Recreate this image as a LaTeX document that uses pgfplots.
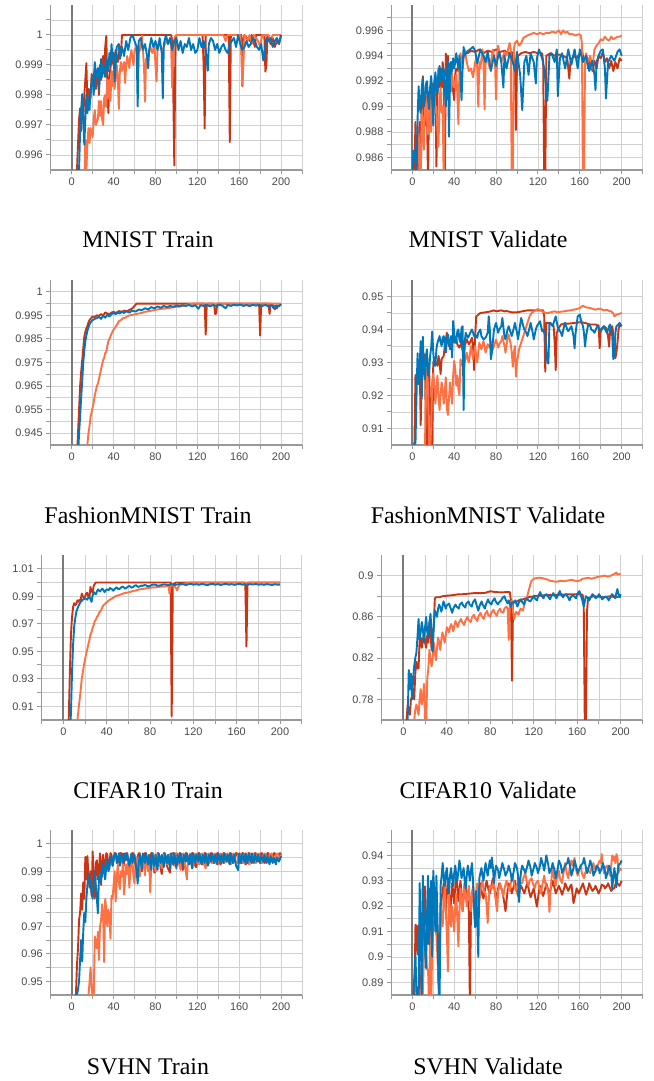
\documentclass[border=0pt]{standalone}
\usepackage{fontspec}
\setmainfont{Liberation Serif}
\newfontfamily\tickfont{Liberation Sans}
\usepackage{pgfplots}
\pgfplotsset{compat=1.18}
\definecolor{cR}{HTML}{CC3311}
\definecolor{cB}{HTML}{0077BB}
\definecolor{cO}{HTML}{FF7043}
\definecolor{tickgray}{HTML}{4A4A4A}
\definecolor{gridgray}{HTML}{D0D0D0}
\definecolor{axgray}{HTML}{999999}
\definecolor{zerogray}{HTML}{7A7A7A}
\pgfplotsset{
 tb/.style={
  scale only axis, height=165bp, anchor=south west,
  xmin=-20, xmax=220,
  xtick={0,40,80,120,160,200},
  xticklabels={0,40,80,120,160,200},
  minor xtick={-20,20,60,100,140,180,220},
  grid=both,
  major grid style={gridgray, line width=0.8bp},
  minor grid style={gridgray, line width=0.8bp},
  axis x line*=bottom, axis y line*=left,
  axis line style={axgray, line width=1.3bp, -},
  tick align=outside,
  major tick length=4.5bp, minor tick length=4.5bp,
  tick style={axgray, line width=1bp},
  ticklabel style={font=\fontsize{11}{13}\tickfont, text=tickgray},
  extra x ticks={0}, extra x tick labels={},
  extra x tick style={major grid style={zerogray, line width=1.8bp}},
  every axis plot/.append style={line width=1.9bp, line join=round, mark=none},
 },
 sR/.style={cR}, sB/.style={cB}, sO/.style={cO},
}
\tikzset{captxt/.style={font=\fontsize{24}{28}\selectfont, anchor=base}}
\begin{document}
\begin{tikzpicture}
\path[use as bounding box] (0,0) rectangle (654bp,1081bp);

% ---------- MNIST Train ----------
\begin{axis}[tb, at={(50.8bp,911bp)}, width=251.2bp,
  ymin=0.9955, ymax=1.001,
  ytick={0.996,0.997,0.998,0.999,1}, yticklabels={0.996,0.997,0.998,0.999,1},
  minor ytick={0.9965,0.9975,0.9985,0.9995,1.0005}]
\addplot[sR] coordinates {(4,0.9950) (5,0.9955) (7,0.9972) (8,0.99756) (9,0.9968) (10,0.9974) (11,0.9972) (12,0.9980) (13,0.9985) (14,0.99906) (15,0.9976) (16,0.9982) (18,0.9979) (19,0.9987) (20,0.9983) (22,0.9989) (23,0.9982) (25,0.9988) (26,0.9980) (27,0.9990) (28,0.9985) (30,0.9993) (31,0.9988) (32,0.9996) (33,0.99997) (34,0.9984) (35,0.9974) (36,0.9986) (38,0.9992) (40,0.9990) (42,0.9995) (44,0.9991) (46,0.9996) (47,0.9993) (48,1.0) (95,1.0) (96,0.9998) (97,0.9982) (98,0.99565) (99,0.9995) (100,1.0) (125,1.0) (126,0.9990) (127,0.99688) (128,1.0) (150,1.0) (151,0.99643) (152,1.0) (162,1.0) (163,0.9983) (164,0.99985) (165,1.0) (170,0.9998) (172,1.0) (175,0.9996) (176,1.0) (184,1.0) (185,0.99878) (186,0.9990) (187,1.0) (190,0.9997) (192,0.9999) (194,0.9996) (196,0.9998) (198,0.9997) (200,1.0)};
\addplot[sO] coordinates {(12,0.9950) (13,0.9965) (14,0.9955) (15,0.9964) (16,0.9969) (17,0.9964) (18,0.9969) (20,0.9966) (21,0.9972) (22,0.9975) (23,0.9970) (25,0.9972) (26,0.9978) (27,0.9973) (28,0.9978) (29,0.9972) (30,0.9970) (31,0.9979) (32,0.9980) (33,0.9976) (34,0.9985) (35,0.9979) (36,0.9985) (37,0.9978) (38,0.9988) (39,0.9983) (40,0.9988) (41,0.9982) (43,0.9990) (44,0.9986) (45,0.99753) (46,0.9988) (47,0.9991) (48,0.9988) (50,0.9991) (51,0.9984) (52,0.9990) (53,0.9993) (55,0.9989) (56,0.9993) (57,0.9995) (59,0.9990) (60,0.9995) (62,0.9996) (63,0.9988) (64,0.9994) (66,0.9996) (67,0.99998) (68,0.9995) (69,0.9990) (70,0.99778) (71,0.9992) (73,0.9993) (75,0.9996) (77,0.9994) (79,0.9997) (80,0.9990) (81,0.99845) (82,0.9996) (84,0.9997) (86,0.9995) (88,0.9996) (90,0.9998) (92,0.9997) (94,0.9999) (95,0.9996) (96,0.99823) (97,0.9993) (98,0.9999) (100,1.0) (145,1.0) (147,0.9998) (149,1.0) (161,1.0) (162,0.9995) (163,0.99834) (164,0.9990) (165,1.0) (168,0.9998) (170,1.0) (172,0.9997) (174,1.0) (178,0.9998) (180,0.9996) (182,1.0) (188,1.0) (190,0.9998) (192,1.0) (200,1.0)};
\addplot[sB] coordinates {(6,0.9950) (7,0.9955) (8,0.9968) (9,0.9975) (10,0.99803) (11,0.9972) (12,0.99634) (13,0.9972) (14,0.9980) (15,0.9974) (16,0.9979) (17,0.9975) (18,0.9982) (20,0.9986) (21,0.9980) (22,0.9991) (23,0.9986) (25,0.9989) (26,0.9982) (27,0.9987) (28,0.9992) (29,0.9986) (30,0.9990) (32,0.9986) (33,0.9992) (35,0.9988) (36,0.9994) (37,0.9990) (38,0.9997) (39,0.9992) (40,0.9994) (41,0.99845) (42,0.9990) (43,0.9996) (45,0.9997) (46,0.9992) (48,0.9996) (50,0.9993) (52,0.9998) (54,0.9995) (56,0.9999) (58,1.0) (60,0.9998) (62,0.9996) (63,0.99762) (64,0.9998) (66,0.9999) (68,0.9995) (70,0.9997) (72,0.9993) (73,0.99889) (74,0.9995) (76,0.9999) (78,0.9996) (80,0.9998) (82,0.9995) (84,0.9999) (86,0.9994) (87,0.99789) (88,0.9997) (90,1.0) (92,0.9997) (94,0.9999) (96,0.9995) (98,0.9998) (100,0.9999) (102,0.9995) (104,0.9998) (106,0.9994) (108,0.9997) (110,0.9996) (112,0.9999) (114,0.9995) (116,0.9997) (118,0.9994) (120,0.9995) (122,0.9999) (124,0.9996) (126,0.9998) (128,0.9995) (130,0.99881) (131,0.9997) (133,0.9999) (135,0.9998) (137,0.9995) (139,0.9997) (141,0.9994) (143,0.9996) (145,0.9997) (147,0.9995) (149,0.9994) (151,0.9997) (153,0.9998) (155,0.9999) (157,0.9996) (159,1.0) (161,0.9997) (163,0.9995) (165,0.9996) (167,0.9998) (169,0.9996) (171,0.9997) (173,0.9999) (175,0.9998) (177,0.9996) (179,0.9995) (181,0.9997) (183,0.99915) (184,0.9994) (186,0.9999) (188,0.9998) (190,0.9999) (192,0.9996) (194,0.9998) (196,0.9999) (198,0.9997) (200,1.0)};
\end{axis}
\node[captxt] at (148bp,833bp) {MNIST Train};

% ---------- MNIST Validate ----------
\begin{axis}[tb, at={(391.4bp,911bp)}, width=251.2bp,
  ymin=0.985, ymax=0.998,
  ytick={0.986,0.988,0.99,0.992,0.994,0.996}, yticklabels={0.986,0.988,0.99,0.992,0.994,0.996},
  minor ytick={0.987,0.989,0.991,0.993,0.995,0.997}]
\addplot[sR] coordinates {(1,0.984) (2,0.9850) (3,0.98880) (4,0.9855) (5,0.984) (6,0.9870) (7,0.98880) (8,0.984) (9,0.9905) (10,0.99239) (11,0.9895) (12,0.98850) (13,0.9910) (14,0.9895) (15,0.984) (16,0.9908) (17,0.9915) (18,0.9898) (19,0.9918) (20,0.9905) (21,0.9920) (22,0.9923) (23,0.98527) (24,0.9910) (25,0.9930) (26,0.9915) (27,0.9930) (28,0.9915) (29,0.9935) (30,0.9925) (31,0.984) (32,0.99417) (33,0.9930) (34,0.9940) (35,0.9925) (36,0.9932) (37,0.9935) (38,0.9920) (39,0.9912) (40,0.9905) (41,0.9925) (42,0.9930) (44,0.9928) (46,0.9936) (48,0.9938) (50,0.9944) (53,0.9942) (56,0.9944) (60,0.9943) (64,0.9945) (68,0.9942) (72,0.9944) (76,0.9943) (80,0.9945) (84,0.9943) (88,0.9944) (92,0.9942) (95,0.9943) (96,0.9935) (97,0.9942) (98,0.9930) (99,0.98815) (100,0.9935) (101,0.9940) (104,0.9942) (108,0.9943) (112,0.9942) (116,0.9943) (120,0.9942) (124,0.9942) (125,0.9935) (126,0.984) (127,0.984) (128,0.9940) (132,0.9942) (136,0.9940) (140,0.9941) (144,0.9940) (148,0.9938) (150,0.9922) (151,0.9935) (154,0.9940) (157,0.9938) (160,0.9942) (162,0.9945) (164,0.9935) (166,0.9940) (168,0.9930) (170,0.9938) (172,0.9928) (174,0.9936) (176,0.9930) (178,0.9940) (180,0.9938) (182,0.9943) (184,0.9935) (186,0.9938) (188,0.9930) (190,0.9936) (192,0.9928) (194,0.9935) (196,0.9930) (198,0.9938) (200,0.9936)};
\addplot[sO] coordinates {(4,0.984) (5,0.9850) (6,0.98788) (7,0.9860) (8,0.984) (9,0.9898) (10,0.9880) (11,0.9866) (12,0.9900) (13,0.9915) (14,0.9890) (15,0.9878) (16,0.9905) (17,0.9910) (18,0.9880) (19,0.9895) (20,0.9905) (21,0.9912) (22,0.9895) (23,0.9900) (24,0.9880) (25,0.98684) (26,0.9905) (27,0.9915) (28,0.9895) (29,0.9900) (30,0.984) (31,0.9910) (32,0.9923) (33,0.9910) (34,0.9905) (35,0.9918) (36,0.9920) (37,0.9912) (38,0.9925) (39,0.9918) (40,0.9915) (41,0.9920) (42,0.9925) (43,0.9910) (44,0.98862) (45,0.9930) (46,0.9942) (47,0.9935) (48,0.9930) (50,0.9945) (52,0.9935) (54,0.9928) (56,0.9930) (58,0.9923) (60,0.9935) (61,0.9938) (62,0.9930) (63,0.98998) (64,0.9935) (65,0.9930) (67,0.9945) (68,0.9935) (69,0.98977) (70,0.9935) (71,0.9940) (74,0.9930) (77,0.9945) (79,0.9935) (80,0.99055) (81,0.9940) (82,0.9948) (85,0.9935) (88,0.9943) (90,0.9940) (93,0.9950) (94,0.9945) (95,0.984) (96,0.984) (97,0.9945) (98,0.9950) (100,0.9952) (102,0.9948) (104,0.9950) (106,0.9954) (108,0.9955) (110,0.9956) (113,0.9957) (116,0.9958) (119,0.9957) (122,0.9958) (125,0.9957) (128,0.9958) (131,0.9958) (134,0.9959) (137,0.9958) (140,0.9960) (142,0.9957) (144,0.9960) (146,0.9958) (148,0.9959) (150,0.9957) (153,0.9957) (156,0.9956) (159,0.9957) (161,0.9956) (162,0.9950) (163,0.984) (164,0.984) (165,0.9935) (166,0.9942) (168,0.9935) (170,0.9940) (172,0.9930) (174,0.9945) (176,0.9948) (178,0.9950) (180,0.9953) (182,0.9952) (184,0.9955) (186,0.9953) (188,0.9952) (190,0.9955) (192,0.9953) (194,0.9954) (196,0.9955) (198,0.9955) (200,0.9956)};
\addplot[sB] coordinates {(0,0.984) (1,0.98652) (2,0.9858) (3,0.9866) (4,0.984) (5,0.9890) (6,0.99160) (7,0.9900) (8,0.9895) (9,0.9915) (10,0.9922) (11,0.9900) (12,0.9905) (13,0.9918) (14,0.9920) (15,0.9905) (16,0.9898) (17,0.9915) (18,0.9924) (19,0.9910) (20,0.9885) (21,0.9915) (22,0.9927) (23,0.9918) (24,0.9910) (25,0.9925) (26,0.9932) (27,0.9920) (28,0.9920) (29,0.9930) (30,0.9929) (31,0.9915) (32,0.9900) (33,0.9925) (34,0.9936) (35,0.98762) (36,0.9920) (37,0.9935) (38,0.9928) (39,0.9938) (40,0.9930) (41,0.9935) (42,0.9942) (43,0.9935) (44,0.9930) (45,0.9940) (46,0.9925) (47,0.99050) (48,0.9930) (49,0.9947) (50,0.9940) (52,0.9943) (55,0.9945) (58,0.9947) (60,0.9944) (62,0.9934) (65,0.9945) (68,0.9940) (70,0.9935) (72,0.9943) (75,0.9928) (78,0.9940) (80,0.9932) (83,0.9943) (85,0.9935) (87,0.99150) (88,0.9940) (90,0.9930) (93,0.9942) (96,0.9935) (98,0.9928) (100,0.9943) (103,0.9925) (105,0.98972) (107,0.9935) (109,0.9940) (111,0.9925) (113,0.9942) (116,0.9935) (118,0.99181) (119,0.9938) (121,0.9945) (124,0.9938) (126,0.9930) (129,0.99045) (131,0.9940) (133,0.9942) (136,0.9935) (138,0.9945) (139,0.99082) (141,0.9938) (143,0.9942) (146,0.9930) (149,0.9945) (152,0.9933) (155,0.9945) (158,0.9930) (160,0.9945) (163,0.9935) (166,0.9940) (169,0.9928) (172,0.9936) (174,0.9925) (175,0.99129) (176,0.9935) (178,0.9940) (180,0.9944) (182,0.9945) (184,0.9930) (185,0.99063) (187,0.9935) (190,0.9940) (193,0.9936) (196,0.9943) (198,0.9945) (200,0.9940)};
\end{axis}
\node[captxt] at (488bp,833bp) {MNIST Validate};

% ---------- FashionMNIST Train ----------
\begin{axis}[tb, at={(50.8bp,636bp)}, width=251.2bp,
  ymin=0.94, ymax=1.01,
  ytick={0.945,0.955,0.965,0.975,0.985,0.995,1.005}, yticklabels={0.945,0.955,0.965,0.975,0.985,0.995,1},
  minor ytick={0.95,0.96,0.97,0.98,0.99,1.0}]
\addplot[sR] coordinates {(5,0.935) (6,0.945) (7,0.955) (8,0.965) (9,0.971) (10,0.976) (11,0.981) (12,0.986) (13,0.988) (14,0.9895) (15,0.9905) (16,0.992) (17,0.9930) (18,0.9935) (19,0.9940) (20,0.9945) (22,0.9943) (24,0.9950) (26,0.9948) (28,0.9955) (30,0.9950) (32,0.9962) (34,0.9958) (36,0.9955) (38,0.9962) (40,0.9965) (42,0.9960) (45,0.9968) (48,0.9965) (50,0.9970) (53,0.9968) (56,0.9975) (58,0.9980) (60,0.9990) (62,1.0) (127,1.0) (128,0.9868) (129,1.0) (136,1.0) (137,0.9956) (138,0.9957) (139,1.0) (179,1.0) (180,0.9864) (181,1.0) (188,1.0) (189,0.9956) (190,1.0) (193,0.9990) (194,0.9975) (195,0.9985) (196,0.9980) (197,0.9992) (198,0.9988) (200,1.0)};
\addplot[sO] coordinates {(14,0.935) (15,0.9405) (16,0.945) (17,0.948) (18,0.952) (19,0.954) (20,0.956) (21,0.958) (22,0.961) (23,0.963) (24,0.965) (25,0.966) (26,0.968) (27,0.970) (28,0.972) (29,0.974) (30,0.976) (31,0.977) (32,0.979) (33,0.9795) (34,0.982) (35,0.984) (36,0.985) (37,0.986) (38,0.9872) (39,0.988) (40,0.9890) (41,0.9895) (42,0.9902) (43,0.9910) (44,0.9915) (45,0.9925) (47,0.9930) (49,0.9938) (51,0.9940) (53,0.9945) (55,0.9950) (58,0.9952) (61,0.9955) (64,0.9958) (67,0.9960) (70,0.9965) (73,0.9967) (76,0.9970) (79,0.9972) (82,0.9975) (85,0.9977) (88,0.9979) (91,0.9980) (94,0.9982) (97,0.9984) (100,0.9986) (103,0.9988) (106,0.9990) (109,0.9994) (112,0.9997) (115,0.9999) (118,1.0) (200,1.0)};
\addplot[sB] coordinates {(6,0.935) (7,0.945) (8,0.952) (9,0.960) (10,0.967) (11,0.975) (12,0.980) (13,0.984) (14,0.9865) (15,0.9885) (16,0.9900) (17,0.9912) (18,0.9920) (19,0.9925) (20,0.9930) (22,0.9935) (24,0.9938) (26,0.9945) (28,0.9935) (30,0.9948) (32,0.9940) (34,0.9952) (36,0.9945) (38,0.9955) (40,0.9960) (42,0.9955) (44,0.9962) (46,0.9958) (48,0.9965) (50,0.9960) (52,0.9968) (55,0.9962) (58,0.9970) (61,0.9966) (64,0.9975) (67,0.9972) (70,0.9980) (73,0.9975) (76,0.9985) (79,0.9980) (82,0.9988) (85,0.9982) (88,0.9990) (91,0.9985) (94,0.9990) (97,0.9986) (100,0.9992) (103,0.9988) (106,0.9993) (109,0.9990) (112,0.9994) (115,0.9988) (118,0.9993) (121,0.9978) (123,0.9993) (126,0.9990) (129,0.9995) (132,0.9988) (135,0.9994) (138,0.9990) (141,0.9995) (144,0.9991) (147,0.9980) (149,0.9994) (152,0.9990) (155,0.9995) (158,0.9992) (161,0.9996) (164,0.9990) (167,0.9994) (170,0.9989) (173,0.9995) (176,0.9991) (179,0.9995) (182,0.9990) (185,0.9994) (188,0.9988) (191,0.9993) (193,0.9980) (195,0.9992) (197,0.9988) (200,0.9995)};
\end{axis}
\node[captxt] at (148bp,557bp) {FashionMNIST Train};

% ---------- FashionMNIST Validate ----------
\begin{axis}[tb, at={(391.4bp,636bp)}, width=251.2bp,
  ymin=0.905, ymax=0.955,
  ytick={0.91,0.92,0.93,0.94,0.95}, yticklabels={0.91,0.92,0.93,0.94,0.95},
  minor ytick={0.915,0.925,0.935,0.945}]
\addplot[sR] coordinates {(1,0.904) (2,0.9055) (3,0.9262) (4,0.9250) (5,0.9235) (6,0.9290) (7,0.9300) (8,0.9110) (9,0.9280) (10,0.9310) (11,0.9300) (12,0.9325) (13,0.9065) (14,0.904) (15,0.9200) (16,0.9290) (17,0.9150) (18,0.904) (19,0.904) (20,0.9302) (21,0.9295) (23,0.9300) (24,0.9290) (25,0.9320) (26,0.9300) (27,0.9265) (28,0.9310) (30,0.9320) (31,0.9350) (33,0.9390) (34,0.9360) (35,0.9350) (36,0.9365) (38,0.9375) (40,0.9360) (42,0.9370) (43,0.9355) (45,0.9345) (47,0.9360) (48,0.9335) (50,0.9350) (52,0.9370) (54,0.9355) (55,0.9360) (57,0.9375) (58,0.9350) (59,0.9277) (60,0.9380) (61,0.9439) (63,0.9445) (65,0.9450) (70,0.9452) (75,0.9455) (78,0.9458) (80,0.9455) (85,0.9458) (88,0.9455) (90,0.9456) (95,0.9452) (100,0.9452) (105,0.9455) (110,0.9458) (115,0.9458) (120,0.9458) (125,0.9458) (126,0.9440) (127,0.9272) (128,0.9420) (132,0.9420) (135,0.9410) (136,0.9360) (137,0.9277) (138,0.9390) (140,0.9405) (142,0.9415) (145,0.9418) (150,0.9418) (155,0.9420) (160,0.9422) (165,0.9420) (170,0.9415) (175,0.9415) (178,0.9412) (179,0.9343) (180,0.9400) (183,0.9410) (185,0.9405) (187,0.9380) (188,0.9348) (189,0.9400) (191,0.9410) (193,0.9360) (194,0.9313) (195,0.9330) (196,0.9360) (197,0.9400) (198,0.9412) (200,0.9410)};
\addplot[sO] coordinates {(12,0.904) (13,0.9200) (14,0.9280) (15,0.9230) (16,0.904) (17,0.904) (18,0.9100) (19,0.9245) (20,0.9267) (21,0.9230) (22,0.9175) (23,0.9220) (24,0.9260) (25,0.9200) (26,0.9156) (27,0.9200) (28,0.9240) (29,0.9220) (30,0.9175) (31,0.9210) (32,0.9255) (33,0.9160) (34,0.9141) (35,0.9190) (36,0.9240) (37,0.9210) (38,0.9175) (39,0.9260) (40,0.9305) (41,0.9280) (42,0.9230) (43,0.9260) (44,0.9220) (45,0.9201) (46,0.9310) (47,0.9300) (48,0.9290) (49,0.9310) (50,0.9300) (52,0.9330) (53,0.9310) (54,0.9300) (56,0.9350) (57,0.9330) (58,0.9310) (60,0.9350) (61,0.9320) (62,0.9300) (64,0.9360) (66,0.9340) (68,0.9365) (70,0.9330) (72,0.9355) (74,0.9345) (75,0.9365) (77,0.9340) (78,0.9350) (80,0.9370) (82,0.9345) (83,0.9355) (85,0.9365) (86,0.9380) (88,0.9350) (89,0.9330) (91,0.9375) (92,0.9385) (94,0.9355) (95,0.9330) (96,0.9287) (97,0.9330) (98,0.9350) (99,0.9257) (100,0.9300) (102,0.9340) (104,0.9360) (106,0.9380) (108,0.9400) (110,0.9420) (112,0.9440) (114,0.9450) (116,0.9455) (118,0.9458) (120,0.9462) (122,0.9458) (124,0.9455) (126,0.9452) (128,0.9450) (130,0.9450) (133,0.9453) (136,0.9455) (139,0.9452) (142,0.9454) (145,0.9455) (148,0.9457) (151,0.9458) (154,0.9460) (157,0.9462) (160,0.9465) (162,0.9470) (163,0.9472) (165,0.9468) (168,0.9466) (170,0.9465) (173,0.9462) (175,0.9460) (178,0.9463) (180,0.9462) (183,0.9458) (186,0.9460) (188,0.9456) (190,0.9455) (192,0.9448) (193,0.9440) (195,0.9445) (197,0.9447) (200,0.9450)};
\addplot[sB] coordinates {(1,0.904) (2,0.9055) (3,0.9055) (4,0.9200) (5,0.9328) (6,0.9235) (7,0.9290) (8,0.9365) (9,0.9190) (10,0.9378) (11,0.9280) (12,0.9250) (13,0.9320) (14,0.9340) (15,0.9260) (16,0.9270) (17,0.9320) (18,0.9345) (19,0.9394) (20,0.9330) (21,0.9290) (22,0.9290) (23,0.9340) (24,0.9360) (25,0.9370) (26,0.9380) (27,0.9360) (28,0.9350) (29,0.9375) (30,0.9380) (31,0.9350) (32,0.9330) (33,0.9370) (34,0.9385) (35,0.9360) (36,0.9340) (37,0.9380) (38,0.9315) (39,0.9426) (40,0.9390) (41,0.9360) (42,0.9360) (43,0.9395) (44,0.9400) (45,0.9370) (46,0.9360) (47,0.9405) (48,0.9410) (49,0.9156) (50,0.9360) (51,0.9390) (53,0.9375) (54,0.9380) (56,0.9395) (57,0.9400) (59,0.9380) (60,0.9385) (62,0.9375) (63,0.9390) (65,0.9400) (66,0.9380) (68,0.9370) (70,0.9375) (72,0.9390) (73,0.9440) (74,0.9400) (75,0.9310) (76,0.9330) (78,0.9400) (80,0.9420) (82,0.9390) (83,0.9400) (85,0.9410) (86,0.9435) (88,0.9380) (89,0.9370) (91,0.9400) (92,0.9410) (94,0.9390) (95,0.9380) (97,0.9405) (98,0.9420) (100,0.9390) (101,0.9370) (103,0.9415) (104,0.9435) (106,0.9410) (107,0.9400) (109,0.9390) (110,0.9380) (112,0.9405) (113,0.9420) (115,0.9390) (116,0.9370) (118,0.9400) (119,0.9410) (121,0.9420) (122,0.9425) (124,0.9395) (125,0.9400) (127,0.9380) (129,0.9300) (130,0.9297) (131,0.9420) (133,0.9415) (134,0.9410) (136,0.9430) (137,0.9440) (139,0.9405) (140,0.9400) (142,0.9390) (143,0.9380) (145,0.9410) (146,0.9420) (148,0.9400) (149,0.9395) (151,0.9405) (152,0.9410) (154,0.9380) (155,0.9343) (156,0.9390) (158,0.9440) (160,0.9445) (161,0.9430) (163,0.9410) (164,0.9390) (165,0.9348) (166,0.9380) (168,0.9415) (170,0.9410) (171,0.9400) (173,0.9395) (174,0.9390) (176,0.9405) (177,0.9410) (179,0.9400) (180,0.9395) (182,0.9405) (183,0.9410) (185,0.9395) (186,0.9390) (188,0.9410) (189,0.9415) (191,0.9380) (192,0.9310) (193,0.9320) (194,0.9390) (195,0.9410) (197,0.9415) (198,0.9420) (200,0.9410)};
\end{axis}
\node[captxt] at (488bp,557bp) {FashionMNIST Validate};

% ---------- CIFAR10 Train ----------
\begin{axis}[tb, at={(41.7bp,361bp)}, width=260bp,
  ymin=0.90, ymax=1.02,
  ytick={0.91,0.93,0.95,0.97,0.99,1.01}, yticklabels={0.91,0.93,0.95,0.97,0.99,1.01},
  minor ytick={0.92,0.94,0.96,0.98,1.0}]
\addplot[sR] coordinates {(4,0.89) (5,0.902) (6,0.935) (7,0.962) (8,0.975) (9,0.9823) (10,0.9850) (11,0.9835) (12,0.9845) (13,0.9870) (14,0.9860) (15,0.9875) (16,0.9870) (17,0.9919) (18,0.9900) (19,0.9890) (20,0.9895) (21,0.9920) (22,0.9925) (23,0.9900) (24,0.9885) (25,0.9967) (26,0.9935) (27,0.9930) (28,0.9975) (29,0.9990) (30,1.0) (99,1.0) (100,0.9028) (101,0.9985) (102,0.9990) (104,1.0) (167,1.0) (168,0.9975) (169,0.9534) (170,0.9985) (171,1.0) (200,1.0)};
\addplot[sO] coordinates {(12,0.89) (13,0.900) (14,0.908) (15,0.9148) (16,0.922) (17,0.930) (18,0.935) (19,0.940) (20,0.944) (21,0.948) (22,0.951) (23,0.955) (24,0.958) (25,0.962) (26,0.964) (27,0.967) (28,0.969) (29,0.972) (30,0.973) (31,0.975) (32,0.976) (33,0.978) (34,0.979) (35,0.980) (36,0.982) (37,0.9835) (38,0.984) (39,0.985) (40,0.9855) (42,0.987) (44,0.9880) (46,0.9888) (48,0.9900) (50,0.9905) (52,0.9910) (55,0.9920) (58,0.9925) (61,0.9930) (64,0.9938) (67,0.9942) (70,0.9950) (73,0.9952) (76,0.9957) (79,0.9960) (82,0.9964) (85,0.9965) (88,0.9968) (91,0.9970) (94,0.9972) (96,0.9975) (97,0.9978) (98,0.9919) (99,0.9975) (100,0.9980) (102,0.9975) (104,0.9960) (105,0.9943) (106,0.9965) (107,0.9980) (110,0.9990) (113,0.9994) (116,0.9997) (119,1.0) (200,1.0)};
\addplot[sB] coordinates {(6,0.89) (7,0.905) (8,0.935) (9,0.955) (10,0.968) (11,0.974) (12,0.9787) (13,0.9810) (14,0.9830) (15,0.9845) (16,0.9860) (17,0.9868) (18,0.9875) (19,0.9880) (20,0.9885) (21,0.9880) (22,0.9875) (23,0.9890) (24,0.9895) (25,0.9880) (26,0.9859) (27,0.9905) (28,0.9930) (29,0.9920) (30,0.9915) (31,0.9935) (32,0.9950) (33,0.9940) (34,0.9935) (35,0.9948) (36,0.9955) (37,0.9945) (38,0.9930) (40,0.9950) (42,0.9945) (43,0.9960) (45,0.9950) (46,0.9940) (48,0.9958) (49,0.9965) (51,0.9950) (52,0.9955) (54,0.9968) (55,0.9970) (57,0.9955) (58,0.9960) (60,0.9972) (61,0.9975) (63,0.9962) (64,0.9965) (66,0.9978) (67,0.9980) (69,0.9968) (70,0.9970) (72,0.9978) (73,0.9975) (75,0.9982) (76,0.9980) (78,0.9972) (80,0.9975) (82,0.9984) (85,0.9985) (87,0.9976) (90,0.9980) (92,0.9986) (95,0.9985) (97,0.9980) (100,0.9988) (103,0.9982) (105,0.9985) (108,0.9990) (110,0.9988) (113,0.9982) (115,0.9986) (118,0.9990) (120,0.9984) (123,0.9988) (125,0.9983) (128,0.9989) (130,0.9986) (133,0.9980) (135,0.9987) (138,0.9990) (140,0.9984) (143,0.9988) (145,0.9982) (148,0.9987) (150,0.9990) (153,0.9984) (155,0.9988) (158,0.9983) (160,0.9987) (163,0.9990) (165,0.9984) (168,0.9987) (170,0.9983) (173,0.9988) (175,0.9985) (178,0.9989) (180,0.9984) (183,0.9987) (185,0.9983) (188,0.9988) (190,0.9985) (193,0.9982) (195,0.9987) (198,0.9984) (200,0.9985)};
\end{axis}
\node[captxt] at (148bp,282bp) {CIFAR10 Train};

% ---------- CIFAR10 Validate ----------
\begin{axis}[tb, at={(381.6bp,361bp)}, width=260.8bp,
  ymin=0.76, ymax=0.92,
  ytick={0.78,0.82,0.86,0.9}, yticklabels={0.78,0.82,0.86,0.9},
  minor ytick={0.8,0.84,0.88}]
\addplot[sR] coordinates {(2,0.755) (3,0.7600) (4,0.7745) (5,0.7700) (6,0.7650) (7,0.7800) (8,0.7826) (9,0.7900) (10,0.7800) (11,0.8050) (12,0.8166) (13,0.8100) (14,0.8100) (15,0.8376) (16,0.8400) (17,0.8300) (18,0.8380) (19,0.8430) (20,0.8350) (21,0.8300) (22,0.8420) (23,0.8350) (24,0.8550) (25,0.8450) (26,0.8280) (27,0.8400) (28,0.8500) (29,0.8780) (30,0.8790) (33,0.8790) (36,0.8800) (40,0.8805) (45,0.8810) (50,0.8818) (55,0.8820) (60,0.8825) (65,0.8830) (70,0.8830) (75,0.8832) (80,0.8848) (85,0.8840) (90,0.8838) (95,0.8840) (98,0.8840) (99,0.8760) (100,0.7981) (101,0.8750) (103,0.8740) (106,0.8760) (110,0.8770) (115,0.8790) (120,0.8800) (125,0.8805) (130,0.8810) (140,0.8812) (150,0.8818) (160,0.8820) (165,0.8815) (166,0.8730) (167,0.755) (168,0.755) (169,0.8650) (170,0.8780) (175,0.8800) (180,0.8795) (185,0.8790) (190,0.8800) (195,0.8790) (200,0.8800)};
\addplot[sO] coordinates {(9,0.755) (10,0.7600) (11,0.7700) (12,0.7750) (13,0.7700) (14,0.7650) (15,0.7800) (16,0.7900) (17,0.7750) (18,0.7820) (19,0.7950) (20,0.7600) (21,0.755) (22,0.8000) (23,0.8100) (24,0.8280) (25,0.8180) (26,0.8120) (27,0.8200) (28,0.8350) (29,0.8250) (30,0.8180) (31,0.8300) (32,0.8400) (33,0.8350) (34,0.8280) (35,0.8380) (36,0.8450) (37,0.8400) (38,0.8350) (39,0.8420) (40,0.8500) (41,0.8480) (42,0.8450) (43,0.8500) (44,0.8530) (45,0.8500) (46,0.8460) (47,0.8520) (48,0.8560) (50,0.8500) (51,0.8540) (53,0.8580) (54,0.8550) (56,0.8520) (57,0.8560) (59,0.8600) (60,0.8570) (62,0.8550) (63,0.8590) (65,0.8620) (66,0.8590) (68,0.8560) (69,0.8600) (71,0.8640) (72,0.8610) (74,0.8580) (75,0.8620) (77,0.8660) (78,0.8620) (80,0.8600) (81,0.8640) (83,0.8670) (84,0.8640) (86,0.8610) (87,0.8650) (89,0.8680) (90,0.8650) (92,0.8640) (93,0.8680) (95,0.8700) (96,0.8680) (97,0.8376) (98,0.8720) (99,0.8740) (100,0.8760) (101,0.8650) (102,0.8580) (103,0.8620) (104,0.8650) (106,0.8620) (107,0.8660) (108,0.8680) (110,0.8660) (111,0.8700) (112,0.8740) (113,0.8770) (114,0.8800) (115,0.8840) (116,0.8880) (117,0.8920) (118,0.8950) (120,0.8970) (122,0.8975) (125,0.8980) (128,0.8975) (130,0.8970) (133,0.8960) (135,0.8950) (138,0.8945) (140,0.8940) (143,0.8945) (145,0.8950) (148,0.8945) (150,0.8950) (153,0.8955) (155,0.8960) (158,0.8950) (160,0.8945) (163,0.8955) (165,0.8970) (168,0.8975) (170,0.8980) (173,0.8970) (175,0.8975) (178,0.8985) (180,0.8990) (183,0.8995) (185,0.9000) (188,0.8990) (190,0.8995) (193,0.9010) (195,0.9020) (196,0.9030) (197,0.9010) (199,0.9015) (200,0.9010)};
\addplot[sB] coordinates {(3,0.755) (4,0.7600) (5,0.8085) (6,0.7900) (7,0.8050) (8,0.7800) (9,0.8000) (10,0.8120) (11,0.8200) (12,0.8250) (13,0.8400) (14,0.8580) (15,0.8380) (16,0.8450) (17,0.8550) (18,0.8480) (19,0.8350) (20,0.8500) (21,0.8600) (22,0.8450) (23,0.8400) (24,0.8550) (25,0.8630) (26,0.8450) (27,0.8263) (28,0.8500) (29,0.8660) (30,0.8640) (31,0.8600) (32,0.8680) (33,0.8720) (34,0.8690) (35,0.8650) (36,0.8700) (37,0.8750) (38,0.8720) (39,0.8680) (40,0.8710) (42,0.8730) (43,0.8700) (45,0.8640) (46,0.8680) (48,0.8720) (49,0.8700) (51,0.8680) (52,0.8720) (54,0.8740) (55,0.8710) (57,0.8690) (58,0.8730) (60,0.8750) (61,0.8720) (63,0.8700) (64,0.8740) (66,0.8770) (67,0.8730) (69,0.8660) (70,0.8700) (72,0.8750) (73,0.8720) (75,0.8680) (76,0.8720) (78,0.8770) (79,0.8740) (81,0.8720) (82,0.8750) (84,0.8780) (85,0.8750) (87,0.8720) (88,0.8740) (90,0.8760) (91,0.8780) (93,0.8800) (94,0.8770) (96,0.8730) (97,0.8760) (99,0.8700) (100,0.8740) (102,0.8740) (103,0.8760) (105,0.8700) (106,0.8730) (108,0.8770) (109,0.8750) (111,0.8720) (112,0.8760) (114,0.8780) (115,0.8760) (117,0.8750) (118,0.8770) (120,0.8800) (121,0.8780) (123,0.8760) (124,0.8800) (126,0.8840) (127,0.8810) (129,0.8780) (130,0.8810) (132,0.8820) (133,0.8800) (135,0.8770) (136,0.8800) (138,0.8830) (139,0.8810) (141,0.8780) (142,0.8810) (144,0.8850) (145,0.8820) (147,0.8790) (148,0.8810) (150,0.8820) (151,0.8800) (153,0.8760) (154,0.8790) (156,0.8810) (157,0.8800) (159,0.8780) (160,0.8820) (162,0.8850) (163,0.8820) (165,0.8750) (166,0.8700) (167,0.8750) (168,0.8800) (170,0.8780) (171,0.8760) (173,0.8800) (174,0.8820) (176,0.8800) (177,0.8780) (179,0.8800) (180,0.8820) (182,0.8790) (183,0.8770) (185,0.8790) (186,0.8800) (188,0.8780) (189,0.8760) (191,0.8800) (192,0.8820) (194,0.8800) (195,0.8780) (196,0.8830) (197,0.8870) (198,0.8820) (199,0.8790) (200,0.8820)};
\end{axis}
\node[captxt] at (488bp,282bp) {CIFAR10 Validate};

% ---------- SVHN Train ----------
\begin{axis}[tb, at={(50.8bp,86bp)}, width=251.2bp,
  ymin=0.945, ymax=1.005,
  ytick={0.95,0.96,0.97,0.98,0.99,1}, yticklabels={0.95,0.96,0.97,0.98,0.99,1},
  minor ytick={0.955,0.965,0.975,0.985,0.995}]
\addplot[sR] coordinates {(3,0.940) (4,0.945) (5,0.956) (6,0.962) (7,0.9723) (8,0.975) (9,0.9819) (10,0.976) (11,0.986) (12,0.980) (13,0.9952) (14,0.987) (15,0.9955) (16,0.988) (17,0.984) (18,0.990) (19,0.981) (20,0.9972) (21,0.986) (22,0.980) (23,0.993) (24,0.994) (25,0.987) (26,0.990) (27,0.9965) (28,0.985) (29,0.993) (30,0.996) (31,0.992) (32,0.990) (33,0.9966) (34,0.996) (35,0.991) (36,0.992) (37,0.9966) (38,0.996) (39,0.992) (40,0.994) (41,0.9966) (42,0.9965) (44,0.993) (45,0.995) (46,0.9966) (48,0.9965) (49,0.991) (50,0.993) (52,0.9966) (53,0.9965) (55,0.990) (56,0.992) (58,0.9966) (59,0.9965) (61,0.992) (62,0.994) (64,0.9966) (65,0.9965) (67,0.990) (68,0.9925) (70,0.9966) (71,0.9965) (73,0.9905) (74,0.991) (76,0.9966) (77,0.9965) (79,0.9895) (80,0.990) (82,0.9966) (83,0.9965) (85,0.991) (86,0.989) (88,0.9966) (89,0.9965) (91,0.992) (92,0.991) (94,0.9895) (95,0.9960) (97,0.9966) (98,0.9965) (100,0.992) (101,0.9925) (103,0.9966) (104,0.9965) (106,0.9905) (107,0.991) (109,0.9966) (110,0.9965) (112,0.9925) (113,0.993) (115,0.9966) (116,0.9965) (118,0.992) (119,0.9915) (121,0.9966) (122,0.9965) (124,0.993) (125,0.9925) (127,0.9966) (128,0.9965) (130,0.9925) (131,0.993) (133,0.9966) (134,0.9965) (136,0.993) (137,0.9935) (139,0.9966) (140,0.9965) (142,0.9925) (143,0.993) (145,0.9966) (146,0.9965) (148,0.9935) (149,0.994) (151,0.9966) (152,0.9965) (154,0.993) (155,0.9935) (157,0.9966) (158,0.9965) (160,0.9935) (161,0.993) (163,0.9966) (164,0.9965) (166,0.9925) (167,0.993) (169,0.9966) (170,0.9965) (172,0.993) (173,0.9935) (175,0.9966) (176,0.9965) (178,0.9935) (179,0.994) (181,0.9966) (182,0.9965) (184,0.993) (185,0.9935) (187,0.9966) (188,0.9965) (190,0.9935) (191,0.994) (193,0.9966) (194,0.9965) (196,0.994) (197,0.9945) (199,0.9966) (200,0.996)};
\addplot[sO] coordinates {(15,0.940) (16,0.945) (17,0.9495) (18,0.955) (19,0.948) (20,0.944) (21,0.944) (22,0.9663) (23,0.964) (24,0.962) (25,0.968) (26,0.9577) (27,0.970) (28,0.972) (29,0.978) (30,0.975) (31,0.957) (32,0.980) (33,0.976) (34,0.970) (35,0.976) (36,0.974) (37,0.9655) (38,0.981) (39,0.980) (40,0.985) (41,0.990) (42,0.979) (43,0.9875) (44,0.9925) (45,0.986) (46,0.9835) (47,0.990) (48,0.988) (49,0.9935) (50,0.9815) (51,0.987) (52,0.9925) (53,0.989) (54,0.994) (55,0.984) (56,0.990) (57,0.993) (58,0.994) (59,0.988) (60,0.9855) (61,0.9935) (62,0.995) (63,0.990) (64,0.9935) (65,0.988) (66,0.9945) (67,0.9955) (68,0.991) (69,0.9935) (70,0.9885) (71,0.9955) (72,0.994) (73,0.990) (74,0.9945) (75,0.9823) (76,0.9925) (77,0.995) (78,0.9965) (79,0.992) (80,0.990) (81,0.9955) (83,0.9965) (84,0.992) (85,0.994) (86,0.991) (88,0.996) (89,0.9955) (90,0.993) (92,0.9925) (93,0.996) (95,0.9965) (96,0.993) (98,0.992) (99,0.9965) (101,0.9965) (102,0.9935) (104,0.9905) (105,0.996) (107,0.9965) (108,0.993) (110,0.987) (111,0.994) (113,0.9965) (114,0.993) (116,0.9915) (117,0.996) (119,0.9965) (120,0.993) (122,0.9925) (123,0.996) (125,0.9965) (126,0.993) (128,0.991) (129,0.996) (131,0.9965) (132,0.9935) (134,0.993) (135,0.996) (137,0.9965) (138,0.993) (140,0.9925) (141,0.996) (143,0.9965) (144,0.9935) (146,0.993) (147,0.996) (149,0.9965) (150,0.993) (152,0.9925) (153,0.996) (155,0.9965) (156,0.9935) (158,0.993) (159,0.996) (161,0.9965) (162,0.993) (164,0.993) (165,0.996) (167,0.9965) (168,0.993) (170,0.9925) (171,0.996) (173,0.9965) (174,0.9935) (176,0.993) (177,0.996) (179,0.9965) (180,0.993) (182,0.993) (183,0.996) (185,0.9965) (186,0.994) (188,0.993) (189,0.996) (191,0.9965) (192,0.9935) (194,0.9935) (195,0.996) (197,0.9965) (198,0.994) (200,0.996)};
\addplot[sB] coordinates {(4,0.940) (5,0.945) (6,0.947) (7,0.950) (8,0.958) (9,0.965) (10,0.9572) (11,0.968) (12,0.975) (13,0.9715) (14,0.980) (15,0.985) (16,0.9892) (17,0.987) (18,0.986) (19,0.982) (20,0.980) (21,0.986) (22,0.990) (23,0.985) (24,0.980) (25,0.9747) (26,0.988) (27,0.986) (28,0.990) (29,0.988) (30,0.993) (31,0.990) (32,0.987) (33,0.992) (34,0.994) (35,0.990) (36,0.991) (37,0.995) (38,0.9955) (39,0.992) (40,0.994) (41,0.996) (42,0.9965) (43,0.993) (45,0.9965) (46,0.992) (47,0.996) (49,0.993) (50,0.9965) (52,0.994) (53,0.9965) (55,0.992) (57,0.9965) (58,0.993) (60,0.996) (62,0.990) (63,0.9855) (64,0.993) (65,0.996) (67,0.991) (68,0.9965) (70,0.993) (71,0.9965) (73,0.9925) (74,0.996) (76,0.9905) (77,0.9965) (79,0.992) (80,0.996) (82,0.9905) (83,0.9965) (85,0.993) (86,0.996) (88,0.9915) (89,0.9965) (91,0.993) (92,0.996) (94,0.991) (95,0.9965) (97,0.9925) (98,0.9965) (100,0.991) (101,0.996) (103,0.993) (104,0.9965) (106,0.992) (107,0.996) (109,0.9935) (110,0.9965) (112,0.9925) (113,0.996) (115,0.991) (116,0.9965) (118,0.993) (119,0.996) (121,0.9935) (122,0.9965) (124,0.9925) (125,0.996) (127,0.993) (128,0.9965) (130,0.992) (131,0.996) (133,0.9935) (134,0.9965) (136,0.993) (137,0.996) (139,0.9925) (140,0.9965) (142,0.9935) (143,0.996) (145,0.993) (146,0.9965) (148,0.9935) (149,0.996) (151,0.9925) (152,0.9965) (154,0.993) (155,0.996) (157,0.992) (159,0.9904) (160,0.9965) (162,0.993) (163,0.996) (165,0.9935) (166,0.9965) (168,0.993) (169,0.996) (171,0.9935) (172,0.9965) (174,0.993) (175,0.996) (177,0.9935) (178,0.996) (180,0.993) (181,0.9955) (183,0.9935) (184,0.996) (186,0.993) (187,0.9955) (189,0.9925) (190,0.9955) (192,0.993) (193,0.995) (195,0.9925) (196,0.995) (198,0.9935) (200,0.9955)};
\end{axis}
\node[captxt] at (148bp,7bp) {SVHN Train};

% ---------- SVHN Validate ----------
\begin{axis}[tb, at={(391.4bp,86bp)}, width=251.2bp,
  ymin=0.885, ymax=0.95,
  ytick={0.89,0.9,0.91,0.92,0.93,0.94}, yticklabels={0.89,0.9,0.91,0.92,0.93,0.94},
  minor ytick={0.895,0.905,0.915,0.925,0.935,0.945}]
\addplot[sR] coordinates {(1,0.880) (2,0.885) (3,0.9127) (4,0.9120) (5,0.901) (6,0.9125) (7,0.895) (8,0.880) (9,0.890) (10,0.900) (11,0.915) (12,0.9278) (13,0.915) (14,0.905) (15,0.918) (16,0.927) (17,0.910) (18,0.895) (19,0.905) (20,0.915) (21,0.926) (22,0.916) (23,0.920) (24,0.911) (25,0.905) (26,0.900) (27,0.915) (28,0.923) (29,0.926) (30,0.929) (31,0.924) (32,0.918) (33,0.925) (34,0.931) (35,0.925) (36,0.917) (37,0.922) (38,0.929) (39,0.926) (40,0.921) (41,0.927) (42,0.932) (43,0.928) (44,0.922) (45,0.926) (46,0.930) (47,0.925) (48,0.918) (49,0.923) (50,0.929) (51,0.927) (52,0.924) (53,0.922) (54,0.918) (55,0.880) (56,0.918) (57,0.924) (58,0.928) (59,0.922) (60,0.9117) (61,0.920) (62,0.926) (64,0.928) (65,0.929) (67,0.924) (68,0.923) (70,0.928) (71,0.930) (73,0.926) (74,0.925) (76,0.929) (77,0.931) (79,0.925) (80,0.923) (82,0.927) (83,0.929) (85,0.927) (86,0.926) (88,0.921) (89,0.918) (91,0.926) (92,0.929) (94,0.927) (95,0.925) (97,0.928) (98,0.930) (100,0.926) (101,0.924) (103,0.927) (104,0.928) (106,0.926) (107,0.925) (109,0.928) (110,0.929) (112,0.925) (113,0.9235) (115,0.926) (116,0.927) (118,0.922) (119,0.9198) (121,0.926) (122,0.928) (124,0.925) (125,0.924) (127,0.927) (128,0.929) (130,0.926) (131,0.925) (133,0.928) (134,0.930) (136,0.927) (137,0.925) (139,0.927) (140,0.928) (142,0.926) (143,0.9245) (145,0.927) (146,0.929) (148,0.927) (149,0.926) (151,0.928) (152,0.9285) (153,0.925) (154,0.9212) (156,0.925) (157,0.927) (159,0.925) (160,0.926) (162,0.928) (163,0.929) (165,0.926) (166,0.9245) (168,0.927) (169,0.929) (171,0.927) (172,0.926) (174,0.927) (175,0.928) (177,0.926) (178,0.925) (180,0.927) (181,0.9285) (183,0.928) (184,0.927) (186,0.928) (187,0.929) (189,0.927) (190,0.926) (192,0.927) (193,0.927) (195,0.930) (196,0.929) (198,0.928) (200,0.930)};
\addplot[sO] coordinates {(7,0.880) (8,0.885) (9,0.890) (10,0.885) (11,0.900) (12,0.912) (13,0.905) (14,0.895) (15,0.895) (16,0.880) (17,0.910) (18,0.880) (19,0.905) (20,0.925) (21,0.9175) (22,0.912) (23,0.9085) (24,0.900) (25,0.889) (26,0.900) (27,0.920) (28,0.916) (29,0.912) (30,0.922) (31,0.928) (32,0.918) (33,0.909) (34,0.8943) (35,0.925) (36,0.918) (37,0.912) (38,0.920) (39,0.916) (40,0.910) (41,0.920) (42,0.925) (43,0.915) (44,0.9042) (45,0.918) (46,0.927) (47,0.922) (48,0.918) (49,0.925) (50,0.929) (51,0.924) (52,0.920) (53,0.925) (54,0.928) (55,0.922) (56,0.918) (57,0.925) (58,0.927) (59,0.921) (60,0.913) (61,0.922) (62,0.929) (63,0.926) (64,0.921) (65,0.926) (67,0.930) (68,0.927) (69,0.925) (70,0.925) (71,0.920) (72,0.9134) (73,0.922) (74,0.928) (76,0.927) (77,0.929) (78,0.930) (79,0.925) (80,0.921) (81,0.918) (82,0.926) (84,0.929) (85,0.927) (87,0.924) (88,0.927) (90,0.930) (91,0.928) (93,0.926) (94,0.929) (96,0.932) (97,0.929) (99,0.926) (100,0.928) (102,0.931) (103,0.929) (105,0.929) (106,0.931) (108,0.933) (109,0.930) (111,0.928) (112,0.930) (114,0.931) (115,0.929) (117,0.927) (118,0.929) (120,0.930) (121,0.928) (123,0.925) (124,0.928) (126,0.932) (127,0.929) (129,0.927) (130,0.925) (131,0.9177) (132,0.926) (134,0.936) (135,0.932) (137,0.928) (138,0.931) (140,0.934) (141,0.931) (143,0.929) (144,0.932) (146,0.937) (147,0.934) (149,0.931) (150,0.934) (152,0.938) (153,0.936) (155,0.939) (156,0.935) (158,0.932) (159,0.934) (161,0.936) (162,0.933) (164,0.931) (165,0.933) (167,0.935) (168,0.934) (170,0.933) (171,0.935) (173,0.937) (174,0.935) (176,0.934) (177,0.936) (179,0.938) (180,0.937) (181,0.9405) (182,0.936) (183,0.933) (184,0.935) (186,0.936) (187,0.934) (189,0.932) (190,0.936) (191,0.940) (192,0.938) (193,0.9395) (194,0.937) (195,0.9405) (196,0.939) (197,0.933) (198,0.935) (199,0.9345) (200,0.934)};
\addplot[sB] coordinates {(0,0.880) (1,0.885) (2,0.893) (3,0.9009) (4,0.885) (5,0.880) (6,0.885) (7,0.9291) (8,0.910) (9,0.885) (10,0.932) (11,0.915) (12,0.905) (13,0.8956) (14,0.915) (15,0.932) (16,0.905) (17,0.920) (18,0.930) (19,0.900) (20,0.934) (21,0.925) (22,0.910) (23,0.932) (24,0.915) (25,0.889) (26,0.880) (27,0.928) (28,0.932) (29,0.937) (30,0.931) (31,0.928) (32,0.933) (33,0.935) (34,0.929) (35,0.925) (36,0.932) (37,0.935) (38,0.931) (39,0.928) (40,0.933) (41,0.936) (42,0.932) (43,0.930) (44,0.934) (45,0.938) (46,0.935) (47,0.931) (48,0.933) (49,0.935) (50,0.930) (51,0.927) (52,0.932) (53,0.936) (54,0.933) (55,0.930) (56,0.934) (57,0.937) (58,0.930) (59,0.920) (60,0.912) (61,0.926) (62,0.915) (63,0.900) (64,0.931) (65,0.933) (66,0.935) (67,0.932) (68,0.930) (69,0.934) (70,0.937) (71,0.934) (72,0.932) (73,0.935) (74,0.938) (75,0.935) (76,0.9392) (77,0.935) (78,0.929) (79,0.933) (80,0.936) (82,0.934) (83,0.931) (85,0.935) (86,0.937) (88,0.934) (89,0.932) (91,0.934) (92,0.936) (94,0.933) (95,0.930) (97,0.934) (98,0.937) (100,0.935) (101,0.932) (102,0.9216) (103,0.930) (104,0.934) (105,0.936) (107,0.934) (108,0.933) (110,0.936) (111,0.938) (113,0.935) (114,0.932) (116,0.935) (117,0.937) (119,0.935) (120,0.933) (122,0.936) (123,0.939) (125,0.936) (126,0.934) (127,0.937) (128,0.940) (130,0.936) (131,0.933) (133,0.935) (134,0.937) (136,0.934) (137,0.931) (139,0.935) (140,0.938) (142,0.936) (143,0.933) (145,0.935) (146,0.936) (148,0.937) (149,0.939) (151,0.935) (152,0.932) (154,0.935) (155,0.938) (157,0.935) (158,0.933) (160,0.935) (161,0.936) (163,0.937) (164,0.939) (166,0.935) (167,0.933) (169,0.936) (170,0.938) (172,0.935) (173,0.932) (175,0.934) (176,0.936) (178,0.935) (179,0.933) (181,0.935) (182,0.937) (184,0.934) (185,0.931) (187,0.934) (188,0.936) (190,0.933) (191,0.927) (192,0.931) (193,0.935) (194,0.932) (195,0.9275) (196,0.933) (197,0.936) (199,0.937) (200,0.938)};
\end{axis}
\node[captxt] at (488bp,7bp) {SVHN Validate};
\end{tikzpicture}
\end{document}
